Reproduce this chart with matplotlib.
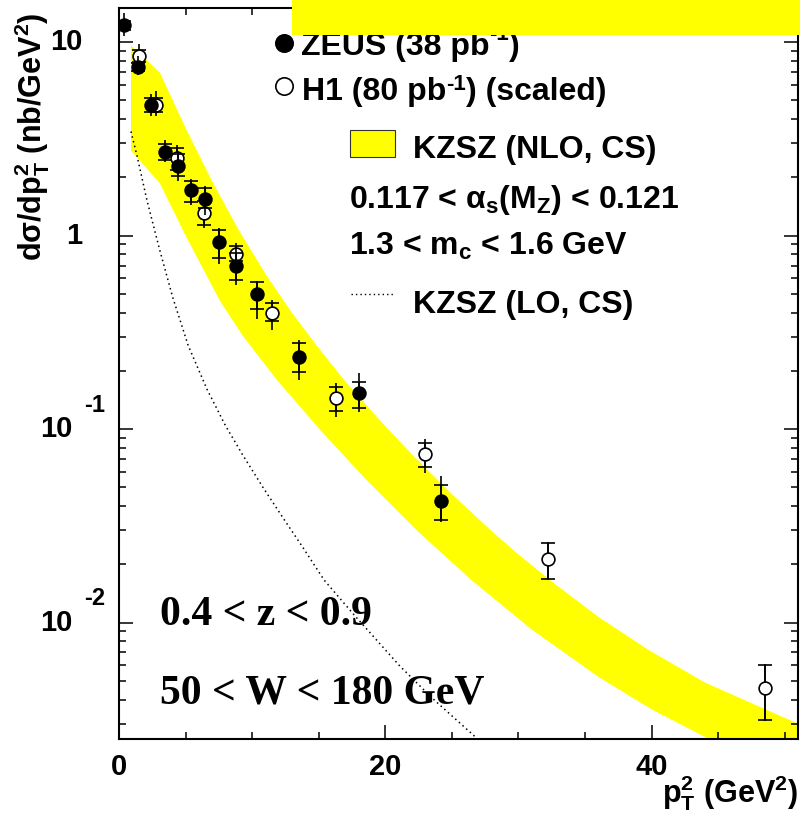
import matplotlib
matplotlib.use("Agg")
import numpy as np
import matplotlib.pyplot as plt
from matplotlib.patches import Rectangle
from matplotlib.ticker import FixedLocator, MultipleLocator, LogLocator, NullFormatter

plt.rcParams['font.family'] = ['Liberation Sans', 'DejaVu Sans']
plt.rcParams['font.weight'] = 'bold'
plt.rcParams['mathtext.fontset'] = 'custom'
plt.rcParams['mathtext.rm'] = 'Liberation Sans:bold'
plt.rcParams['mathtext.it'] = 'Liberation Sans:bold'
plt.rcParams['mathtext.bf'] = 'Liberation Sans:bold'
plt.rcParams['mathtext.default'] = 'rm'

# ZEUS measurement (filled points)
zeus_pt2 = [0.4, 1.4, 2.4, 3.45, 4.42, 5.4, 6.44, 7.5, 8.76, 10.4, 13.5, 18.0, 24.2]
zeus_xsec = [12.2, 7.4, 4.75, 2.69, 2.30, 1.71, 1.55, 0.93, 0.70, 0.50, 0.237, 0.153, 0.0427]
zeus_stat_lo = [0.6, 0.35, 0.38, 0.245, 0.26, 0.227, 0.157, 0.161, 0.114, 0.082, 0.041, 0.025, 0.009]
zeus_stat_hi = [0.6, 0.35, 0.42, 0.30, 0.35, 0.215, 0.215, 0.142, 0.117, 0.077, 0.040, 0.021, 0.0089]
zeus_tot_lo = [1.4, 0.67, 0.58, 0.30, 0.375, 0.28, 0.27, 0.214, 0.148, 0.128, 0.057, 0.031, 0.0098]
zeus_tot_hi = [2.0, 1.1, 0.66, 0.41, 0.45, 0.26, 0.26, 0.167, 0.188, 0.083, 0.050, 0.041, 0.0148]

# H1 measurement (open points, scaled)
h1_pt2 = [1.5, 2.75, 4.35, 6.37, 8.76, 11.5, 16.3, 23.0, 32.2, 48.5]
h1_xsec = [8.5, 4.75, 2.53, 1.31, 0.80, 0.40, 0.144, 0.074, 0.0212, 0.0046]
h1_stat_lo = [0.6, 0.4, 0.36, 0.17, 0.064, 0.04, 0.020, 0.0106, 0.0045, 0.00145]
h1_stat_hi = [0.6, 0.4, 0.32, 0.20, 0.08, 0.05, 0.020, 0.0103, 0.0047, 0.00144]
h1_tot_lo = [0.95, 0.58, 0.40, 0.21, 0.10, 0.074, 0.028, 0.0145, 0.0047, 0.0015]
h1_tot_hi = [1.3, 0.86, 0.40, 0.25, 0.12, 0.067, 0.028, 0.0145, 0.0049, 0.0015]

# KZSZ NLO colour-singlet band edges
nlo_up_pt2 = [0.9, 3.07, 5.0, 7.0, 9.0, 11.0, 13.0, 15.0, 16.93, 19.8, 22.0, 25.0, 27.94,
              30.0, 32.5, 36.0, 39.8, 44.0, 48.0, 51.0]
nlo_up = [9.6, 6.96, 3.60, 1.905, 1.066, 0.634, 0.398, 0.262, 0.1786, 0.107, 0.0741, 0.0461,
          0.0299, 0.0225, 0.0163, 0.0107, 0.0072, 0.0049, 0.0037, 0.0030]
nlo_lo_pt2 = [0.9, 3.07, 5.0, 7.57, 9.3, 11.9, 15.0, 18.5, 22.4, 26.5, 31.0, 36.0, 40.0,
              44.8, 51.0]
nlo_lo = [2.75, 1.86, 1.0, 0.461, 0.303, 0.178, 0.1009, 0.0553, 0.0298, 0.0165, 0.0092,
          0.00524, 0.00356, 0.0024, 0.00164]

# KZSZ LO colour-singlet curve
lo_pt2 = [0.9, 1.35, 2.1, 3.07, 4.04, 5.2, 6.6, 8.0, 9.3, 10.8, 12.3, 13.8, 15.4, 17.5,
          19.55, 21.05, 23.5, 26.8, 27.6]
lo_xsec = [3.45, 2.59, 1.52, 0.836, 0.478, 0.270, 0.161, 0.104, 0.0733, 0.0501, 0.0349,
           0.0245, 0.0166, 0.01127, 0.00783, 0.0060, 0.00408, 0.00255, 0.0022]

W, H = 800, 822
fig = plt.figure(figsize=(W / 100, H / 100), dpi=100)
ax = fig.add_axes([119 / W, 1 - 739 / H, (798 - 119) / W, (739 - 8) / H])

ax.set_yscale('log')
ax.set_xlim(0, 51)
ax.set_ylim(0.0025, 15)

# theory
ax.fill(np.concatenate([nlo_up_pt2, nlo_lo_pt2[::-1]]),
        np.concatenate([nlo_up, nlo_lo[::-1]]),
        color='#ffff00', lw=0, zorder=1)
ax.plot(lo_pt2, lo_xsec, color='black', lw=1.1, linestyle=(0, (1, 2.2)), zorder=2)


def draw_points(x, y, slo, shi, tlo, thi, face, z):
    ax.errorbar(x, y, yerr=[tlo, thi], fmt='none', ecolor='black',
                elinewidth=1.2, capsize=0, zorder=z)
    ax.errorbar(x, y, yerr=[slo, shi], fmt='none', ecolor='black',
                elinewidth=1.2, capsize=4.7, capthick=1.2, zorder=z)
    ax.plot(x, y, 'o', ms=9.2, mfc=face, mec='black', mew=1.2, zorder=z + 0.1,
            linestyle='none')


draw_points(h1_pt2, h1_xsec, h1_stat_lo, h1_stat_hi, h1_tot_lo, h1_tot_hi, 'white', 3)
draw_points(zeus_pt2, zeus_xsec, zeus_stat_lo, zeus_stat_hi, zeus_tot_lo, zeus_tot_hi, 'black', 4)

# axes styling
for s in ax.spines.values():
    s.set_linewidth(1.5)
ax.xaxis.set_major_locator(FixedLocator([0, 20, 40]))
ax.xaxis.set_minor_locator(MultipleLocator(5))
ax.yaxis.set_major_locator(LogLocator(base=10, numticks=10))
ax.yaxis.set_minor_locator(LogLocator(base=10, subs=np.arange(2, 10), numticks=20))
ax.yaxis.set_major_formatter(NullFormatter())
ax.yaxis.set_minor_formatter(NullFormatter())
ax.tick_params(which='both', direction='in', top=True, right=True, width=1.1)
ax.tick_params(which='major', length=10)
ax.tick_params(which='minor', length=5)
ax.tick_params(axis='x', which='major', pad=10, labelsize=21)

# y tick labels in the 10 / exponent style
ylab = dict(xycoords=ax.get_yaxis_transform(), textcoords='offset pixels',
            fontsize=21, fontweight='bold', va='center')
ax.annotate('10', xy=(0, 10), xytext=(-37, 0), ha='right', **ylab)
ax.annotate('1', xy=(0, 1), xytext=(-37, 0), ha='right', **ylab)
for dec, exp in [(0.1, '-1'), (0.01, '-2')]:
    ax.annotate('10', xy=(0, dec), xytext=(-47, 0), ha='right', **ylab)
    ax.annotate(exp, xy=(0, dec), xytext=(-35, 24), ha='left',
                xycoords=ax.get_yaxis_transform(), textcoords='offset pixels',
                fontsize=17, fontweight='bold', va='center')

# overlay in pixel units for labels and legend
ov = fig.add_axes([0, 0, 1, 1])
ov.set_xlim(0, W)
ov.set_ylim(H, 0)
ov.axis('off')
renderer = fig.canvas.get_renderer()


def rich_text(x, y, parts, **kw):
    # pieces of text laid out left to right, each (string, size, raise in px)
    for s, size, dy in parts:
        t = ov.text(x, y - dy, s, fontsize=size, fontweight='bold', ha='left',
                    va='baseline', **kw)
        x += t.get_window_extent(renderer).width


ov.text(32, 137, r'd$\sigma$/dp$_T^2$ (nb/GeV$^2$)', rotation=90, ha='center', va='center',
        fontsize=22, fontweight='bold')
ov.text(798, 802, r'p$_T^2$ (GeV$^2$)', ha='right', va='baseline', fontsize=22, fontweight='bold')

ov.text(160, 625, '0.4 < z < 0.9', family='Liberation Serif', fontweight='bold', fontsize=30,
        ha='left', va='baseline')
ov.text(160, 703, '50 < W < 180 GeV', family='Liberation Serif', fontweight='bold', fontsize=30,
        ha='left', va='baseline')

# legend
ov.plot([284], [43], 'o', ms=12.5, mfc='black', mec='black', mew=1.2)
rich_text(301, 55, [('ZEUS (38 pb', 23, 0), ('-1', 16, 15), (')', 23, 0)], zorder=3)
ov.plot([284], [86], 'o', ms=12.5, mfc='white', mec='black', mew=1.2)
rich_text(302, 100, [('H1 (80 pb', 23, 0), ('-1', 16, 10), (') (scaled)', 23, 0)])
ov.add_patch(Rectangle((350, 130), 45, 27, facecolor='#ffff00', edgecolor='#333333', lw=0.8))
ov.text(413, 158, 'KZSZ (NLO, CS)', fontsize=23, fontweight='bold', ha='left', va='baseline')
ov.text(349, 208, r'0.117 < α$_s$(M$_Z$) < 0.121', fontsize=23, fontweight='bold', ha='left', va='baseline')
ov.text(349, 255, r'1.3 < m$_c$ < 1.6 GeV', fontsize=23, fontweight='bold', ha='left', va='baseline')
ov.plot([351, 395], [294, 294], color='black', lw=1.0, linestyle=(0, (1, 2.2)))
ov.text(413, 313, 'KZSZ (LO, CS)', fontsize=23, fontweight='bold', ha='left', va='baseline')

# header strip
ov.add_patch(Rectangle((292, 0), W - 292, 35, facecolor='#ffff00', edgecolor='none', zorder=10))

fig.savefig('out.png', dpi=100)
